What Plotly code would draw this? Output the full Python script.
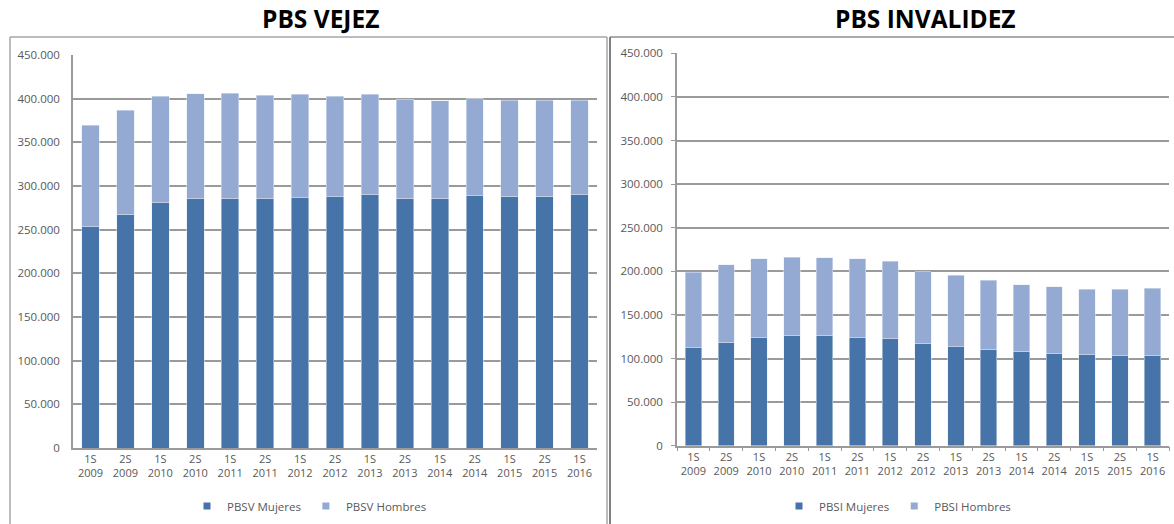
import plotly.graph_objects as go

# ---------------- data ----------------
periodos = ["1S<br>2009", "2S<br>2009", "1S<br>2010", "2S<br>2010", "1S<br>2011",
            "2S<br>2011", "1S<br>2012", "2S<br>2012", "1S<br>2013", "2S<br>2013",
            "1S<br>2014", "2S<br>2014", "1S<br>2015", "2S<br>2015", "1S<br>2016"]

pbsv_mujeres = [253400, 267900, 281300, 285900, 286000, 286000, 286500, 287800,
                290000, 286000, 286000, 289000, 288000, 288000, 290000]
pbsv_hombres = [116400, 119100, 121400, 119800, 120000, 118200, 118500, 115200,
                115000, 113600, 111700, 111000, 110000, 110000, 108000]

pbsi_mujeres = [112400, 118900, 124300, 126600, 126600, 124300, 122500, 117400,
                113500, 110500, 108200, 106000, 104800, 104000, 104000]
pbsi_hombres = [86400, 88700, 90200, 89800, 89000, 90200, 88900, 82100,
                81900, 79500, 76400, 76300, 74900, 75400, 76500]

y_ticks = [0, 50000, 100000, 150000, 200000, 250000, 300000, 350000, 400000, 450000]

titulos = ["PBS VEJEZ", "PBS INVALIDEZ"]

# ---------------- style ----------------
C_MUJ = "#4673A8"
C_HOM = "#94AAD2"
GRID = "#9a9a9a"
TXT = "#595959"
W, H = 1174, 524
FONT = "Open Sans"

fig = go.Figure()

series = [
    (pbsv_mujeres, "PBSV Mujeres", C_MUJ, "x", "y", "legend"),
    (pbsv_hombres, "PBSV Hombres", C_HOM, "x", "y", "legend"),
    (pbsi_mujeres, "PBSI Mujeres", C_MUJ, "x2", "y2", "legend2"),
    (pbsi_hombres, "PBSI Hombres", C_HOM, "x2", "y2", "legend2"),
]
for vals, name, col, xa, ya, leg in series:
    fig.add_trace(go.Bar(x=periodos, y=vals, name=name, marker_color=col,
                         xaxis=xa, yaxis=ya, legendgroup=name, showlegend=False))
    # legend entry with a small square swatch (as in the original)
    fig.add_trace(go.Scatter(x=[None], y=[None], mode="markers", name=name,
                             marker=dict(symbol="square", size=7, color=col),
                             xaxis=xa, yaxis=ya, legend=leg, legendgroup=name,
                             hoverinfo="skip"))

def px_x(p):
    return p / W

def px_y(p):
    return (H - p) / H

xcommon = dict(type="category", showgrid=False, showline=True, linecolor=GRID, linewidth=1.5,
               tickfont=dict(family=FONT, size=11, color=TXT), tickangle=0, fixedrange=True,
               automargin=False)
ycommon = dict(range=[0, 450000], tickvals=y_ticks, tickformat=",d", showgrid=True,
               gridcolor=GRID, gridwidth=1.5, showline=True, linecolor=GRID, linewidth=1.5,
               zeroline=False, tickfont=dict(family=FONT, size=11.5, color=TXT),
               automargin=False, fixedrange=True)

legcommon = dict(orientation="h", yanchor="middle", xanchor="left", traceorder="normal",
                 font=dict(family=FONT, size=11.5, color=TXT), bgcolor="rgba(0,0,0,0)",
                 itemsizing="trace", itemclick=False, itemdoubleclick=False)

fig.update_layout(
    width=W, height=H,
    margin=dict(l=0, r=0, t=0, b=0, autoexpand=False),
    paper_bgcolor="white", plot_bgcolor="white",
    separators=",.",
    barmode="stack", bargap=0.5,
    font=dict(family=FONT, color=TXT),
    xaxis=dict(domain=[px_x(73), px_x(597)], anchor="y", ticks="", **xcommon),
    yaxis=dict(domain=[px_y(448), px_y(55)], anchor="x", ticks="outside", ticklen=5,
               tickcolor="white", ticklabelstandoff=4, **ycommon),
    xaxis2=dict(domain=[px_x(677), px_x(1169)], anchor="y2", ticks="outside", tickson="boundaries",
                ticklen=4, tickcolor=GRID, **xcommon),
    yaxis2=dict(domain=[px_y(445.7), px_y(53.3)], anchor="x2", ticks="outside", ticklen=4,
                tickcolor=GRID, ticklabelstandoff=6, **ycommon),
    legend=dict(x=px_x(187), y=px_y(506), **legcommon),
    legend2=dict(x=px_x(779), y=px_y(506), **legcommon),
    annotations=[
        dict(text="<b>" + titulos[0] + "</b>", x=px_x(320), y=px_y(18.5), xref="paper", yref="paper",
             showarrow=False, xanchor="center", yanchor="middle",
             font=dict(family=FONT, size=24.5, color="black")),
        dict(text="<b>" + titulos[1] + "</b>", x=px_x(926), y=px_y(18.5), xref="paper", yref="paper",
             showarrow=False, xanchor="center", yanchor="middle",
             font=dict(family=FONT, size=24.5, color="black")),
    ],
    shapes=[
        dict(type="line", xref="paper", yref="paper", x0=px_x(10), x1=px_x(607), y0=px_y(37), y1=px_y(37),
             line=dict(color="#a6a6a6", width=1.5)),
        dict(type="line", xref="paper", yref="paper", x0=px_x(10), x1=px_x(10), y0=px_y(37), y1=0,
             line=dict(color="#a6a6a6", width=1.5)),
        dict(type="line", xref="paper", yref="paper", x0=px_x(607), x1=px_x(607), y0=px_y(37), y1=0,
             line=dict(color="#a6a6a6", width=1.5)),
        dict(type="line", xref="paper", yref="paper", x0=px_x(610), x1=1, y0=px_y(37), y1=px_y(37),
             line=dict(color="#8c8c8c", width=1.5)),
        dict(type="line", xref="paper", yref="paper", x0=px_x(610), x1=px_x(610), y0=px_y(37), y1=0,
             line=dict(color="#7f7f7f", width=2)),
    ],
)

fig.write_html("out.html", config={"displayModeBar": False},
               post_script="document.body.style.margin='0';")
